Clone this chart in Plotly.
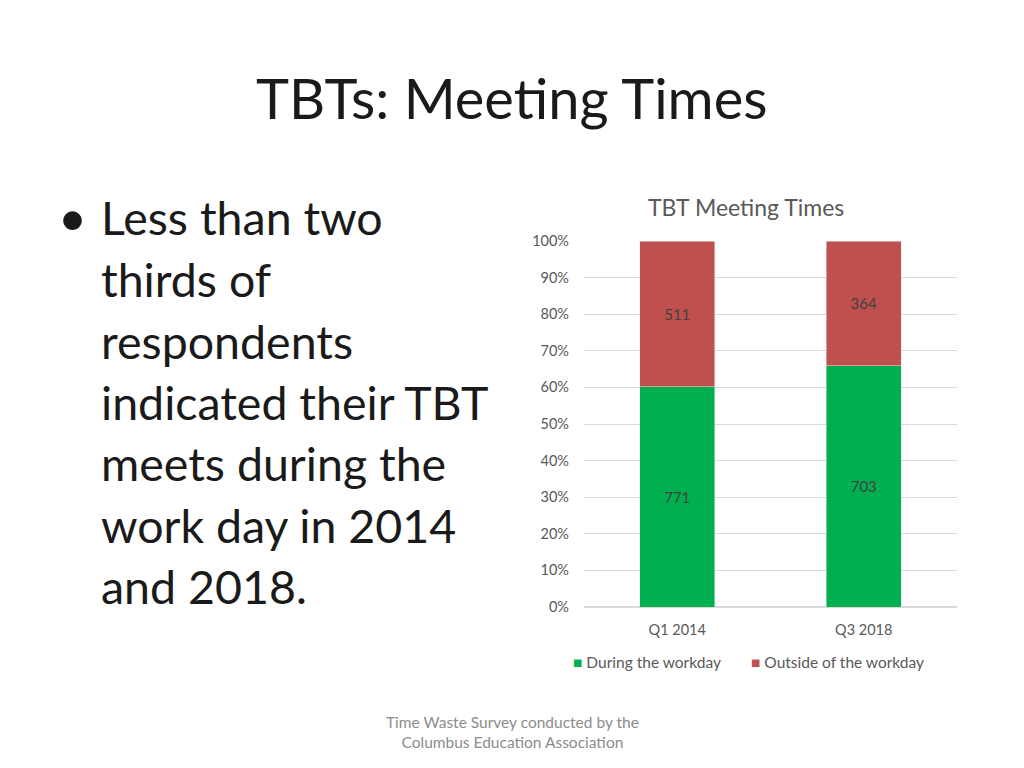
import plotly.graph_objects as go

categories = ["Q1 2014", "Q3 2018"]
during = [771, 703]
outside = [511, 364]
series_names = ["During the workday", "Outside of the workday"]
series_colors = ["#00B050", "#C0504D"]
tick_vals = [0, 10, 20, 30, 40, 50, 60, 70, 80, 90, 100]
tick_text = [f"{v}%" for v in tick_vals]

OFF = 8  # page body margin
W, H = 1024 - 2 * OFF, 768 - 2 * OFF
# plot area in reference page pixels
L, R, T, B = 584, 957, 241, 607
FONT = "Lato"
GRAY = "#595959"

def px(x):
    return (x - L) / (R - L)

def py(y):
    return (B - y) / (B - T)

fig = go.Figure()
for vals, name, col in zip([during, outside], series_names, series_colors):
    fig.add_trace(go.Bar(
        x=categories, y=vals, name=name, marker_color=col,
        text=[str(v) for v in vals], textposition="inside", insidetextanchor="middle",
        textfont=dict(color="#404040", size=15, family=FONT), width=0.4,
    ))

fig.update_layout(
    width=W, height=H,
    barmode="stack", barnorm="percent",
    paper_bgcolor="white", plot_bgcolor="white",
    margin=dict(l=L - OFF, r=W - (R - OFF), t=T - OFF, b=H - (B - OFF), autoexpand=False),
    font=dict(family=FONT, color=GRAY, size=14),
    showlegend=False,
    uniformtext=dict(minsize=8, mode="show"),
)
fig.update_yaxes(range=[0, 100], tickvals=tick_vals, ticktext=tick_text,
                 showgrid=True, gridcolor="#D9D9D9", gridwidth=1,
                 zeroline=True, zerolinecolor="#D9D9D9", showline=False,
                 ticks="", ticklabelstandoff=14,
                 tickfont=dict(size=14.5, color=GRAY, family=FONT))
fig.update_xaxes(showgrid=False, showline=False, ticks="", ticklabelstandoff=12,
                 tickfont=dict(size=14.5, color=GRAY, family=FONT))

anns = []
anns.append(dict(text="TBTs: Meeting Times", x=px(511), y=py(98), xref="paper", yref="paper",
                 xanchor="center", yanchor="middle", showarrow=False,
                 font=dict(size=56, color="#1a1a1a", family=FONT)))
anns.append(dict(text="TBT Meeting Times", x=px(746), y=py(207), xref="paper", yref="paper",
                 xanchor="center", yanchor="middle", showarrow=False,
                 font=dict(size=23, color=GRAY, family=FONT)))
lines = ["Less than two", "thirds of", "respondents", "indicated their TBT",
         "meets during the", "work day in 2014", "and 2018."]
ys = [217, 279, 341, 402, 463, 525, 586]
anns.append(dict(text="•", x=px(56), y=py(217), xref="paper", yref="paper",
                 xanchor="left", yanchor="middle", showarrow=False,
                 font=dict(size=50, color="#1a1a1a", family=FONT)))
for t, y in zip(lines, ys):
    anns.append(dict(text=t, x=px(99), y=py(y), xref="paper", yref="paper",
                     xanchor="left", yanchor="middle", showarrow=False,
                     font=dict(size=46.5, color="#1a1a1a", family=FONT)))
# legend drawn as text entries
leg_x = [571, 749]
for name, col, lx in zip(series_names, series_colors, leg_x):
    anns.append(dict(text=f"<span style='color:{col}'>■</span> {name}",
                     x=px(lx), y=py(662), xref="paper", yref="paper",
                     xanchor="left", yanchor="middle", showarrow=False,
                     font=dict(size=15.5, color=GRAY, family=FONT)))
anns.append(dict(text="Time Waste Survey conducted by the<br>Columbus Education Association",
                 x=px(512), y=py(732), xref="paper", yref="paper",
                 xanchor="center", yanchor="middle", showarrow=False,
                 font=dict(size=15.5, color="#8c8c8c", family=FONT)))
fig.update_layout(annotations=anns)

fig.write_html("out.html")
